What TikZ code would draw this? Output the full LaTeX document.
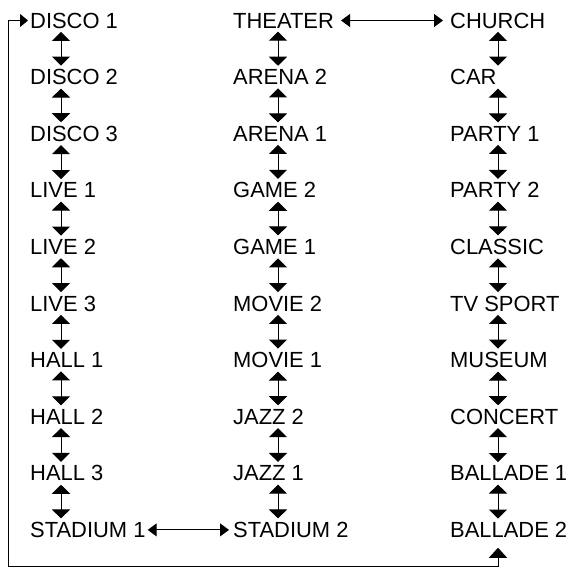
\documentclass[tikz,border=0pt]{standalone}
\usepackage{fontspec}
\setmainfont{Liberation Sans}
\usetikzlibrary{arrows.meta}

\tikzset{
  mode/.style={anchor=west, inner sep=0pt, font=\fontsize{22}{22}\selectfont},
  updown/.style={{Triangle[width=18bp,length=9bp]}-{Triangle[width=18bp,length=9bp]}, line width=1bp},
  across/.style={{Triangle[width=13bp,length=9bp]}-{Triangle[width=13bp,length=9bp]}, line width=1bp}
}

\begin{document}
\begin{tikzpicture}[x=1bp, y=-1bp]
\useasboundingbox (0,0) rectangle (572,569);

% columns of modes
\foreach \txt [count=\i from 0] in {DISCO 1, DISCO 2, DISCO 3, LIVE 1, LIVE 2, LIVE 3, HALL 1, HALL 2, HALL 3, STADIUM 1}
  \node[mode] (a\i) at (30, {20.5+56.6*\i}) {\txt};
\foreach \txt [count=\i from 0] in {THEATER, ARENA 2, ARENA 1, GAME 2, GAME 1, MOVIE 2, MOVIE 1, JAZZ 2, JAZZ 1, STADIUM 2}
  \node[mode] (b\i) at (233, {20.5+56.6*\i}) {\txt};
\foreach \txt [count=\i from 0] in {CHURCH, CAR, PARTY 1, PARTY 2, CLASSIC, TV SPORT, MUSEUM, CONCERT, BALLADE 1, BALLADE 2}
  \node[mode] (c\i) at (450, {20.5+56.6*\i}) {\txt};

\coordinate (xa) at (61,0);
\coordinate (xb) at (278,0);
\coordinate (xc) at (498,0);
\coordinate (corner) at (8,566);

% steps inside each column
\foreach \i [evaluate=\i as \j using int(\i+1)] in {0,...,8} {
  \draw[updown] ([yshift=-3.5bp]a\i.south -| xa) -- ([yshift=3.5bp]a\j.north -| xa);
  \draw[updown] ([yshift=-3.5bp]b\i.south -| xb) -- ([yshift=3.5bp]b\j.north -| xb);
  \draw[updown] ([yshift=-3.5bp]c\i.south -| xc) -- ([yshift=3.5bp]c\j.north -| xc);
}

% links between columns
\draw[across] ([xshift=7bp]b0.east) -- ([xshift=-7bp]c0.west);
\draw[across] ([xshift=2bp]a9.east) -- ([xshift=-4bp]b9.west);

% return path
\draw[{Triangle[width=18bp,length=10bp]}-{Triangle[width=13bp,length=8bp]}, line width=1bp]
  ([yshift=-10bp]c9.south -| xc) -- (corner -| xc) -- (corner) |- ([xshift=-2bp]a0.west);

\end{tikzpicture}
\end{document}
